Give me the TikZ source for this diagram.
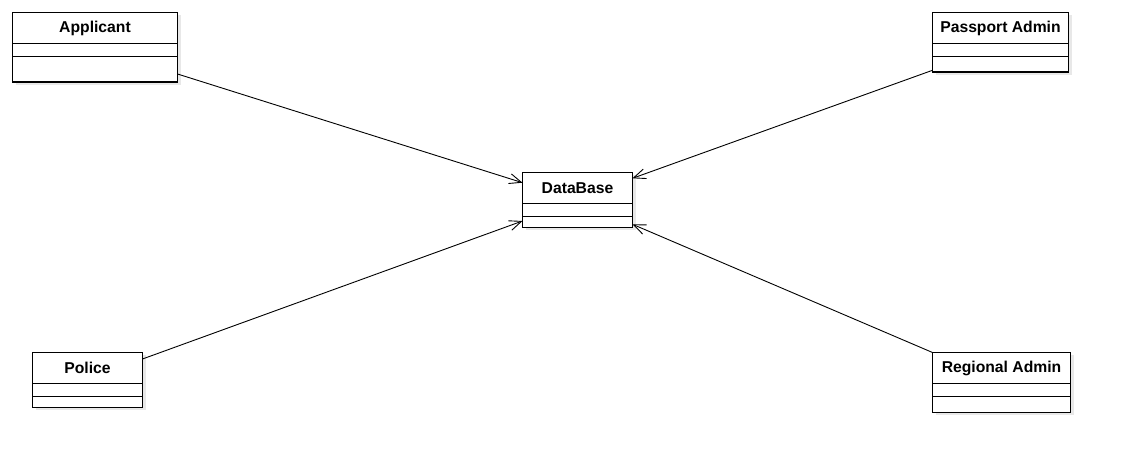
\documentclass[tikz,border=0pt]{standalone}
\usepackage{fontspec}
\setmainfont{Liberation Sans}
\usetikzlibrary{calc,arrows.meta}
\newcommand\umlclass[6]{%
  \fill[shadowc] ({#2+3},{462-#5-3}) rectangle ({#4+3},{462-#3-3});
  \node[classbox, minimum width={(#4-#2)*1pt}, minimum height={(#5-#3)*1pt}]
    (#1) at ({(#2+#4)/2},{462-(#3+#5)/2}) {};
  \node[classtitle] (#1-t) at ($(#1.north)+(0,-15.5)$) {#6};
  \draw[divider] ($(#1.north west)+(0,-31)$) -- ($(#1.north east)+(0,-31)$);
  \draw[divider] ($(#1.north west)+(0,-43.8)$) -- ($(#1.north east)+(0,-43.8)$);
}
\begin{document}
\begin{tikzpicture}[x=1pt,y=1pt,
  shadowc/.style={fill=black!9},
  classbox/.style={draw=black, fill=white, line width=1.1pt, inner sep=0pt, outer sep=0pt},
  classtitle/.style={inner sep=0pt, font=\fontsize{15.7}{18}\selectfont\bfseries},
  divider/.style={draw=black, line width=1.1pt},
  assoc/.style={draw=black, line width=0.9pt, -{Straight Barb[length=12pt,width=10pt,line width=0.9pt]}}]
\useasboundingbox[fill=white] (0,0) rectangle (1121,462);
\umlclass{app}{12.5}{12.5}{177.5}{82}{Applicant}
\umlclass{pass}{932.5}{12.5}{1068.5}{72}{Passport Admin}
\umlclass{db}{522.5}{172.5}{632.5}{227.5}{DataBase}
\umlclass{pol}{32.5}{352.5}{142.5}{407.5}{Police}
\umlclass{reg}{932.5}{352.5}{1070.5}{412.5}{Regional Admin}
\draw[assoc] ($(app.south east)+(0,8)$) -- ($(db.north west)+(0,-10.2)$);
\draw[assoc] ($(pass.south west)+(0,1.7)$) -- ($(db.north east)+(0,-5.8)$);
\draw[assoc] ($(pol.north east)+(0,-6.5)$) -- ($(db.south west)+(0,6.5)$);
\draw[assoc] (reg.north west) -- ($(db.south east)+(0,3.2)$);
\end{tikzpicture}
\end{document}
